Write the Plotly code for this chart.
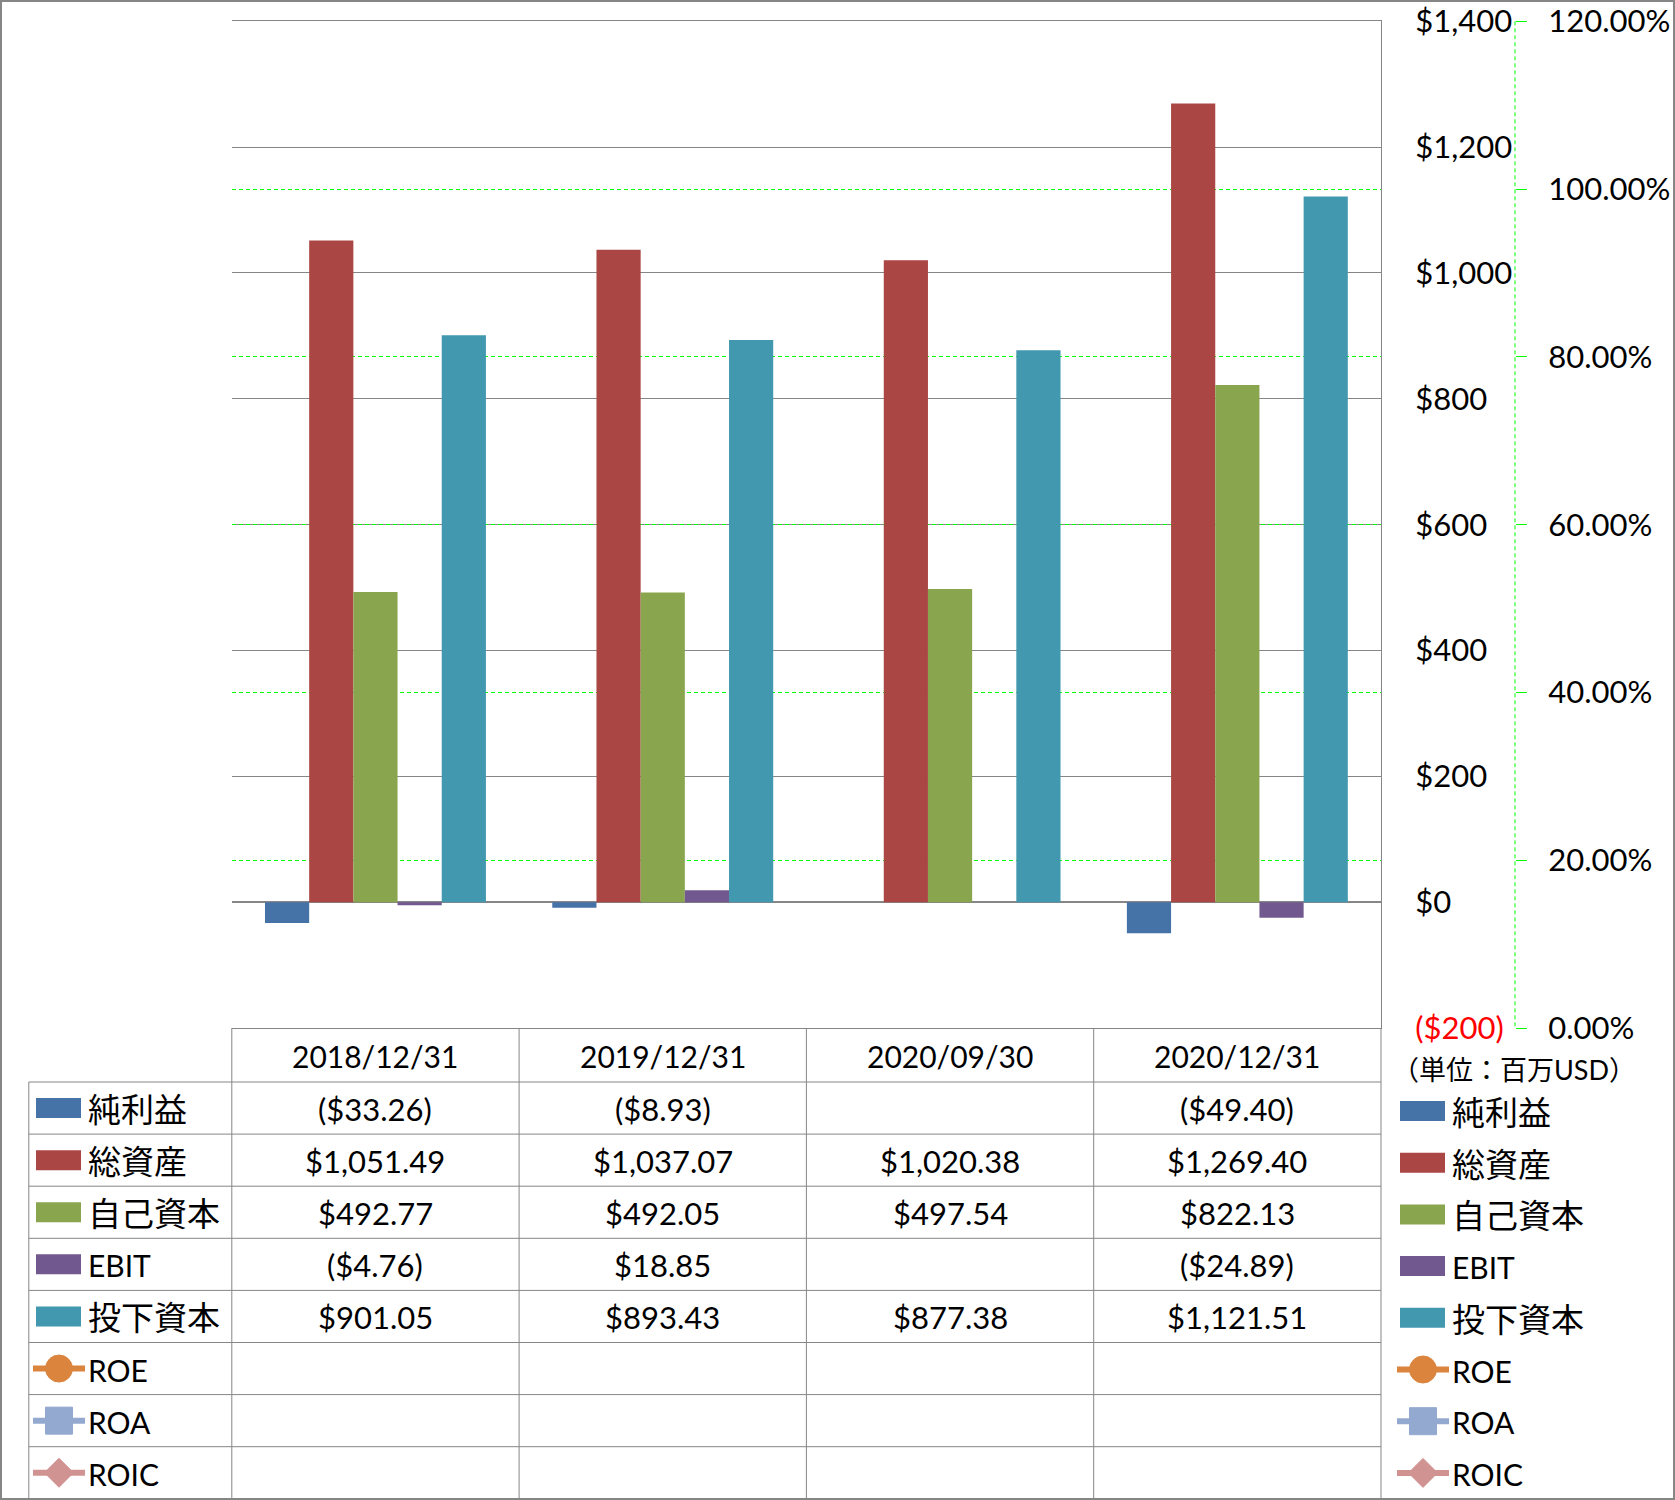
import plotly.graph_objects as go

# ---------------- data ----------------
categories = ["2018/12/31", "2019/12/31", "2020/09/30", "2020/12/31"]
net_income = [-33.26, -8.93, None, -49.40]
total_assets = [1051.49, 1037.07, 1020.38, 1269.40]
equity = [492.77, 492.05, 497.54, 822.13]
ebit = [-4.76, 18.85, None, -24.89]
invested_capital = [901.05, 893.43, 877.38, 1121.51]
roe = [None, None, None, None]
roa = [None, None, None, None]
roic = [None, None, None, None]

bar_names = ["純利益", "総資産", "自己資本", "EBIT", "投下資本"]
bar_values = [net_income, total_assets, equity, ebit, invested_capital]
line_names = ["ROE", "ROA", "ROIC"]
line_values = [roe, roa, roic]

y_ticks = [-200, 0, 200, 400, 600, 800, 1000, 1200, 1400]
pct_ticks = [0.0, 0.2, 0.4, 0.6, 0.8, 1.0, 1.2]
unit_label = "（単位：百万USD）"

# ---------------- styles ----------------
bar_colors = ["#4572A7", "#AA4643", "#89A54E", "#71588F", "#4198AF"]
line_colors = ["#DB843D", "#93A9CF", "#D19392"]
line_symbols = ["circle", "square", "diamond"]
FONT = "Lato, 'Noto Sans CJK JP', sans-serif"
GRAY = "#868686"
GREEN = "#00FF00"
NUM_SIZE = 31

W, H = 1675, 1500
PL, PR, PT, PB = 231.8, 1381.0, 21.3, 1028.0   # plot area in px
Y2POS = 1515.0


def px(x):
    return x / W


def py(y):
    return 1 - y / H


def money(v, dec=2):
    if v is None:
        return ""
    s = "${:,.{d}f}".format(abs(v), d=dec)
    return "(" + s + ")" if v < 0 else s


def tick_money(v):
    s = money(v, 0)
    if v < 0:
        return "<span style='color:#FF0000'>" + s + "</span>"
    return s


fig = go.Figure()
for name, vals, col in zip(bar_names, bar_values, bar_colors):
    fig.add_trace(go.Bar(x=categories, y=vals, name=name, marker_color=col,
                         marker_line_width=0, showlegend=False))
for name, vals, col, sym in zip(line_names, line_values, line_colors, line_symbols):
    fig.add_trace(go.Scatter(x=categories, y=vals, name=name, yaxis="y2",
                             mode="lines+markers", line=dict(color=col, width=4),
                             marker=dict(symbol=sym, size=14, color=col),
                             showlegend=False))

shapes = []
annotations = []

# outer border
shapes.append(dict(type="rect", xref="paper", yref="paper", x0=px(1), x1=px(W - 1),
                   y0=py(1), y1=py(H - 1), line=dict(color=GRAY, width=2)))
# secondary axis dashed line
shapes.append(dict(type="line", xref="paper", yref="paper", x0=px(Y2POS), x1=px(Y2POS),
                   y0=py(PT), y1=py(PB), line=dict(color=GREEN, width=1, dash="4px,3px")))

# ---------------- data table ----------------
n_cat = len(categories)
colw = (PR - PL) / n_cat
LEG_L = 28.8
HDR_T, HDR_B = PB, 1082.0
ROW_H = 52.1
all_names = bar_names + line_names
all_values = bar_values + line_values
n_rows = len(all_names)
TBL_B = HDR_B + n_rows * ROW_H

for k in range(n_cat + 1):
    x = PL + k * colw
    shapes.append(dict(type="line", xref="paper", yref="paper", x0=px(x), x1=px(x),
                       y0=py(HDR_T), y1=py(TBL_B), line=dict(color=GRAY, width=1)))
shapes.append(dict(type="line", xref="paper", yref="paper", x0=px(LEG_L), x1=px(LEG_L),
                   y0=py(HDR_B), y1=py(TBL_B), line=dict(color=GRAY, width=1)))
for r in range(n_rows + 1):
    y = HDR_B + r * ROW_H
    shapes.append(dict(type="line", xref="paper", yref="paper", x0=px(LEG_L), x1=px(PR),
                       y0=py(y), y1=py(y), line=dict(color=GRAY, width=1)))

for k, cat in enumerate(categories):
    annotations.append(dict(x=px(PL + (k + 0.5) * colw), y=py((HDR_T + HDR_B) / 2 + 1),
                            xref="paper", yref="paper", text=cat, showarrow=False,
                            xanchor="center", yanchor="middle",
                            font=dict(family=FONT, size=30, color="black")))

for r, (name, vals) in enumerate(zip(all_names, all_values)):
    yc = HDR_B + (r + 0.5) * ROW_H
    for k, v in enumerate(vals):
        t = money(v)
        if t:
            annotations.append(dict(x=px(PL + (k + 0.5) * colw), y=py(yc + 1),
                                    xref="paper", yref="paper", text=t, showarrow=False,
                                    xanchor="center", yanchor="middle",
                                    font=dict(family=FONT, size=NUM_SIZE, color="black")))


def legend_item(i, name, x_sym, x_text, yc):
    is_cjk = any(ord(c) > 0x2E80 for c in name)
    size = 33 if is_cjk else 30
    annotations.append(dict(x=px(x_text), y=py(yc + 1), xref="paper", yref="paper",
                            text=name, showarrow=False, xanchor="left", yanchor="middle",
                            font=dict(family=FONT, size=size, color="black")))
    if i < len(bar_names):
        col = bar_colors[i]
        shapes.append(dict(type="rect", xref="paper", yref="paper",
                           x0=px(x_sym), x1=px(x_sym + 45), y0=py(yc - 10), y1=py(yc + 10),
                           fillcolor=col, line=dict(width=0)))
    else:
        j = i - len(bar_names)
        col = line_colors[j]
        sym = line_symbols[j]
        cx = x_sym + 23
        shapes.append(dict(type="line", xref="paper", yref="paper",
                           x0=px(x_sym - 3), x1=px(x_sym + 49), y0=py(yc), y1=py(yc),
                           line=dict(color=col, width=6)))
        r = 13.5
        if sym == "circle":
            shapes.append(dict(type="circle", xref="paper", yref="paper",
                               x0=px(cx - r), x1=px(cx + r), y0=py(yc - r), y1=py(yc + r),
                               fillcolor=col, line=dict(color=col, width=1)))
        elif sym == "square":
            shapes.append(dict(type="rect", xref="paper", yref="paper",
                               x0=px(cx - r), x1=px(cx + r), y0=py(yc - r), y1=py(yc + r),
                               fillcolor=col, line=dict(color=col, width=1)))
        else:
            path = "M {} {} L {} {} L {} {} L {} {} Z".format(
                px(cx), py(yc - r - 1), px(cx + r + 1), py(yc), px(cx), py(yc + r + 1),
                px(cx - r - 1), py(yc))
            shapes.append(dict(type="path", xref="paper", yref="paper", path=path,
                               fillcolor=col, line=dict(color=col, width=1)))


# legend inside the table (first column)
for i, name in enumerate(all_names):
    legend_item(i, name, 36.0, 86.0, HDR_B + (i + 0.5) * ROW_H)

# legend on the right
for i, name in enumerate(all_names):
    legend_item(i, name, 1400.0, 1450.0, 1111.0 + i * 51.7)

annotations.append(dict(x=px(1514), y=py(1069), xref="paper", yref="paper", text=unit_label,
                        showarrow=False, xanchor="center", yanchor="middle",
                        font=dict(family=FONT, size=27, color="black")))

fig.update_layout(
    width=W, height=H,
    margin=dict(l=0, r=0, t=0, b=0, autoexpand=False),
    paper_bgcolor="white", plot_bgcolor="white",
    barmode="group", bargap=0.231, bargroupgap=0,
    showlegend=False,
    font=dict(family=FONT, size=30, color="black"),
    xaxis=dict(domain=[px(PL), px(PR)], type="category", range=[-0.5, n_cat - 0.5],
               showticklabels=False, showgrid=False, zeroline=False, automargin=False,
               showline=True, mirror=True, linecolor=GRAY, linewidth=1, ticks=""),
    yaxis=dict(domain=[py(PB), py(PT)], range=[-200, 1400], side="right",
               tickmode="array", tickvals=y_ticks, ticktext=[tick_money(v) for v in y_ticks],
               showgrid=True, gridcolor=GRAY, gridwidth=1, automargin=False,
               zeroline=True, zerolinecolor=GRAY, zerolinewidth=1.5,
               showline=True, linecolor=GRAY, linewidth=1, ticks="",
               ticklabelstandoff=27,
               tickfont=dict(family=FONT, size=NUM_SIZE, color="black")),
    yaxis2=dict(overlaying="y", anchor="free", position=px(Y2POS), side="right",
                range=[0, 1.2], tickmode="array", tickvals=pct_ticks, tickformat=".2%",
                showgrid=True, gridcolor=GREEN, gridwidth=1, griddash="4px,3px",
                zeroline=False, showline=False, automargin=False,
                ticks="outside", ticklen=11, tickcolor=GREEN, tickwidth=1,
                ticklabelstandoff=15,
                tickfont=dict(family=FONT, size=NUM_SIZE, color="black")),
    shapes=shapes,
    annotations=annotations,
)

fig.write_html("out.html")
